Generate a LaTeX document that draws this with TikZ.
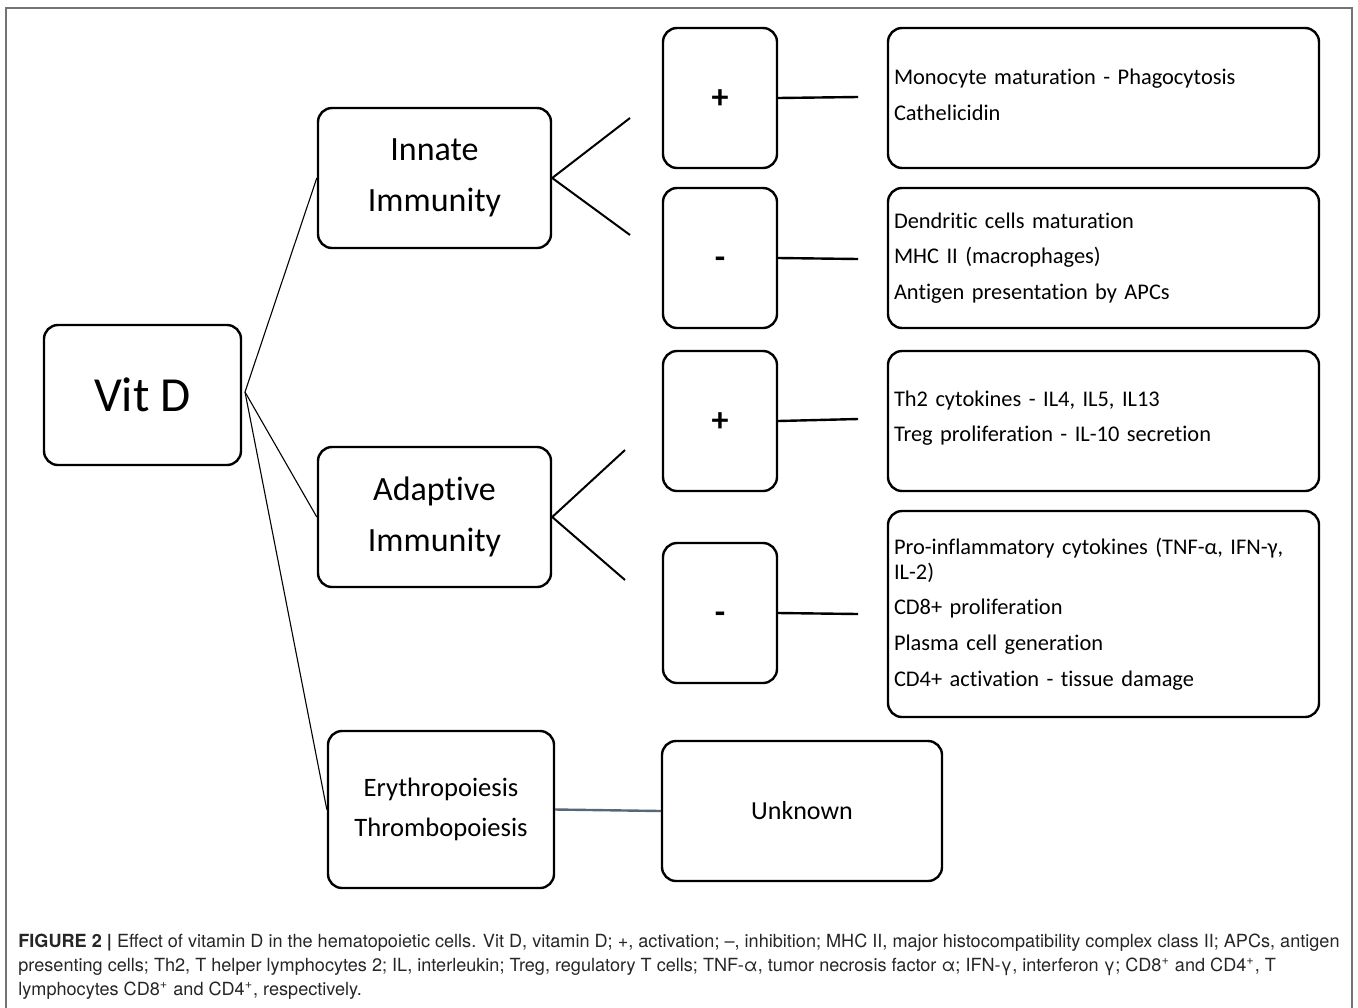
\documentclass[tikz,border=0pt]{standalone}
\usepackage{fontspec}
\setmainfont{Carlito}[Ligatures=NoCommon]
\newfontfamily\capfont{TeX Gyre Heros}
\usepackage{tikz}
\usetikzlibrary{positioning}
\definecolor{linkslate}{RGB}{88,102,122}

\begin{document}
\begin{tikzpicture}[x=0.5pt, y=-0.5pt,
    box/.style={rectangle, draw=black, line width=1.2pt, rounded corners=7pt,
      align=center, inner sep=0pt},
    mainbox/.style={box, minimum width=116.5pt, minimum height=70pt,
      font=\fontsize{17}{25.5}\selectfont},
    signbox/.style={box, minimum width=57pt, minimum height=70pt,
      text height=10pt, text depth=0pt, font=\fontsize{17}{20}\selectfont\bfseries},
    effbox/.style={box, minimum width=215.5pt, text width=209.5pt, align=left,
      minimum height=70pt, font=\fontsize{11.2}{12.5}\selectfont},
    link/.style={line width=0.55pt},
    fork/.style={line width=1pt},
    tie/.style={line width=1.2pt},
  ]
    \useasboundingbox (0,0) rectangle (1358,1007);
    \draw[black!55, line width=0.7pt] (6,1012) -- (6,8) -- (1352,8) -- (1352,1012);

    \node[box, minimum width=98.5pt, minimum height=70pt,
      font=\fontsize{24.5}{28}\selectfont] (vitd) at (142.5,395) {Vit D};
    \node[mainbox] (innate)   at (434.5,178) {Innate\\Immunity};
    \node[mainbox] (adaptive) at (434.5,517) {Adaptive\\Immunity};
    \node[box, minimum width=113pt, minimum height=78.5pt,
      font=\fontsize{13.3}{20}\selectfont] (ery) at (441,809.5) {Erythropoiesis\\Thrombopoiesis};
    \node[box, minimum width=140pt, minimum height=70pt,
      font=\fontsize{13}{16}\selectfont] (unknown) at (802,811) {Unknown};

    \node[signbox] (innplus)  at (720,98)  {+};
    \node[signbox] (innminus) at (720,258) {-};
    \node[signbox] (adaplus)  at (720,421) {+};
    \node[signbox] (adaminus) at (720,613) {-};

    \node[effbox] (inneff1) at (1103.5,98)
      {Monocyte maturation - Phagocytosis\\[5.3pt]Cathelicidin\vspace{3pt}};
    \node[effbox] (inneff2) at (1103.5,258)
      {Dendritic cells maturation\\[5.3pt]MHC II (macrophages)\\[5.3pt]Antigen presentation by APCs};
    \node[effbox] (adaeff1) at (1103.5,421)
      {Th2 cytokines - IL4, IL5, IL13\\[5.3pt]Treg proliferation - IL-10 secretion\vspace{3pt}};
    \node[effbox, minimum height=103pt] (adaeff2) at (1103.5,614)
      {Pro-inflammatory cytokines (TNF-α, IFN-γ,\\IL-2)\\[5.3pt]CD8+ proliferation\\[5.3pt]Plasma cell generation\\[5.3pt]CD4+ activation - tissue damage};

    \coordinate (hub)    at (245,392);
    \coordinate (innup)  at (630,118);
    \coordinate (inndn)  at (630,235);
    \coordinate (adaup)  at (625,450);
    \coordinate (adadn)  at (625,580);
    \coordinate (ip1end) at (858,97);
    \coordinate (im1end) at (858,259);
    \coordinate (ap1end) at (858,419);
    \coordinate (am1end) at (858,614);

    \draw[link] (innate.west) -- (hub) -- (adaptive.west);
    \draw[link] (hub) -- (ery.west);
    \draw[fork] (innup) -- (innate.east) -- (inndn);
    \draw[fork] (adaup) -- (adaptive.east) -- (adadn);
    \draw[tie] (innplus.east)  -- (ip1end);
    \draw[tie] (innminus.east) -- (im1end);
    \draw[tie] (adaplus.east)  -- (ap1end);
    \draw[tie] (adaminus.east) -- (am1end);
    \draw[tie, linkslate] (ery.east) -- (unknown.west);

    \node[anchor=north west, inner sep=0pt, align=left, text=black!85,
      font=\capfont\fontsize{9.05}{12}\selectfont] (caption) at (18,934)
      {\textbf{FIGURE 2 |} Effect of vitamin D in the hematopoietic cells. Vit D, vitamin D; +, activation; \textendash, inhibition; MHC II, major histocompatibility complex class II; APCs, antigen\\
       presenting cells; Th2, T helper lymphocytes 2; IL, interleukin; Treg, regulatory T cells; TNF-α, tumor necrosis factor α; IFN-γ, interferon γ; CD8\textsuperscript{+} and CD4\textsuperscript{+}, T\\
       lymphocytes CD8\textsuperscript{+} and CD4\textsuperscript{+}, respectively.};
  \end{tikzpicture}
\end{document}
